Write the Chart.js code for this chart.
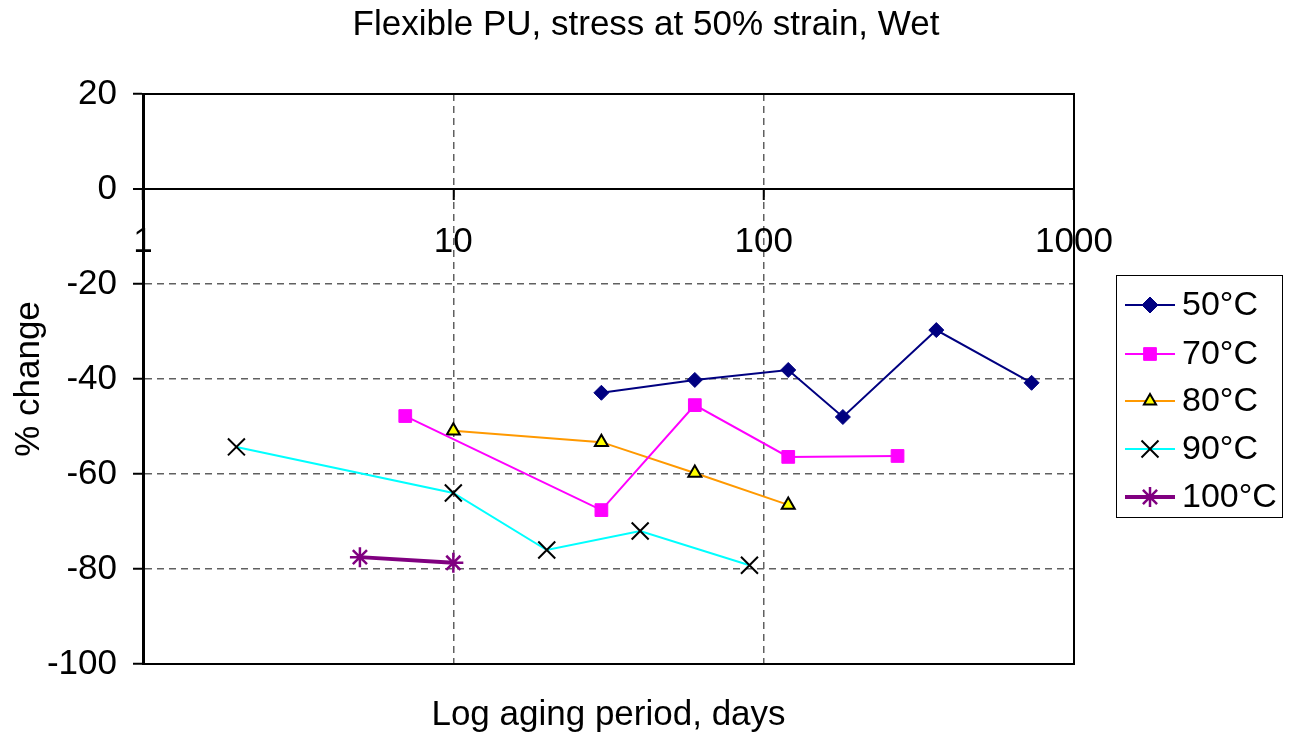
<!DOCTYPE html>
<html>
<head>
<meta charset="utf-8">
<script src="https://cdn.jsdelivr.net/npm/chart.js@4"></script>
<style>
  html, body { margin: 0; padding: 0; background: #fff; }
  #wrap { width: 1298px; height: 737px; }
</style>
</head>
<body>
<div id="wrap"><canvas id="chart" width="1298" height="737"></canvas></div>
<script>
// aging period (days) and % change
const days50 = [30, 60, 120, 180, 360, 730];
const change50 = [-42.9, -40.2, -38.1, -48, -29.7, -40.8];
const days70 = [7, 30, 60, 120, 270];
const change70 = [-47.8, -67.6, -45.5, -56.4, -56.2];
const days80 = [10, 30, 60, 120];
const change80 = [-50.9, -53.3, -59.8, -66.5];
const days90 = [2, 10, 20, 40, 90];
const change90 = [-54.3, -64, -76, -72, -79.2];
const days100 = [5, 10];
const change100 = [-77.5, -78.7];

const xTicks = [1, 10, 100, 1000];
const yTicks = [20, 0, -20, -40, -60, -80, -100];

const FONT = "'Liberation Sans', Arial, sans-serif";

function pts(xs, ys) {
  return xs.map((x, i) => ({ x: x, y: ys[i] }));
}

// titles + plot border + legend drawn by hand
const decor = {
  id: "decor",
  afterDraw(chart) {
    const ctx = chart.ctx;
    const a = chart.chartArea;
    ctx.save();
    ctx.strokeStyle = "#000";
    ctx.lineWidth = 2;
    ctx.strokeRect(a.left, a.top, a.right - a.left, a.bottom - a.top);

    ctx.fillStyle = "#000";
    ctx.textAlign = "center";
    ctx.textBaseline = "middle";
    ctx.font = "35px " + FONT;
    ctx.fillText("Flexible PU, stress at 50% strain, Wet", 646, 25);
    ctx.fillText("Log aging period, days", (a.left + a.right) / 2, 715);

    ctx.save();
    ctx.translate(29, (a.top + a.bottom) / 2);
    ctx.rotate(-Math.PI / 2);
    ctx.fillText("% change", 0, 0);
    ctx.restore();

    // legend
    ctx.lineWidth = 1;
    ctx.strokeRect(1116.5, 275.5, 166, 242);
    const rows = [305, 354, 401, 449, 497];
    const sizes = [8, 9, 7, 12, 10];
    ctx.textAlign = "left";
    ctx.font = "34px " + FONT;
    chart.data.datasets.forEach((ds, i) => {
      const y = rows[i];
      ctx.strokeStyle = ds.borderColor;
      ctx.lineWidth = ds.borderWidth;
      ctx.beginPath();
      ctx.moveTo(1125, y);
      ctx.lineTo(1175, y);
      ctx.stroke();
      ctx.fillStyle = ds.pointBackgroundColor;
      ctx.strokeStyle = ds.pointBorderColor;
      ctx.lineWidth = ds.pointBorderWidth;
      Chart.helpers.drawPoint(ctx, {
        pointStyle: ds.pointStyle,
        radius: sizes[i],
        rotation: 0,
        borderWidth: ds.pointBorderWidth
      }, 1150, y);
      ctx.fillStyle = "#000";
      ctx.fillText(ds.label, 1182, y + 1);
    });
    ctx.restore();
  }
};

new Chart(document.getElementById("chart"), {
  type: "line",
  data: {
    datasets: [
      {
        label: "50°C", data: pts(days50, change50),
        borderColor: "#000080", borderWidth: 2,
        pointStyle: "rectRot", pointRadius: 7.5,
        pointBackgroundColor: "#000080", pointBorderColor: "#000080", pointBorderWidth: 1
      },
      {
        label: "70°C", data: pts(days70, change70),
        borderColor: "#FF00FF", borderWidth: 2,
        pointStyle: "rect", pointRadius: 9,
        pointBackgroundColor: "#FF00FF", pointBorderColor: "#FF00FF", pointBorderWidth: 1
      },
      {
        label: "80°C", data: pts(days80, change80),
        borderColor: "#FF9900", borderWidth: 2,
        pointStyle: "triangle", pointRadius: 7.5,
        pointBackgroundColor: "#FFFF00", pointBorderColor: "#000000", pointBorderWidth: 2
      },
      {
        label: "90°C", data: pts(days90, change90),
        borderColor: "#00FFFF", borderWidth: 2,
        pointStyle: "crossRot", pointRadius: 12,
        pointBackgroundColor: "#000000", pointBorderColor: "#000000", pointBorderWidth: 2
      },
      {
        label: "100°C", data: pts(days100, change100),
        borderColor: "#800080", borderWidth: 4,
        pointStyle: "star", pointRadius: 10,
        pointBackgroundColor: "#800080", pointBorderColor: "#800080", pointBorderWidth: 2.5
      }
    ]
  },
  options: {
    responsive: false,
    animation: false,
    layout: { padding: { left: 0, right: 224, top: 94, bottom: 73 } },
    plugins: { legend: { display: false }, title: { display: false }, tooltip: { enabled: false } },
    elements: { line: { tension: 0 } },
    scales: {
      x: {
        type: "logarithmic",
        min: 1, max: 1000,
        position: { y: 0 },
        afterFit(s) { s.height = 0; },
        afterBuildTicks(s) { s.ticks = xTicks.map(v => ({ value: v })); },
        ticks: {
          color: "#000", font: { size: 35, family: FONT }, padding: 22,
          maxRotation: 0, autoSkip: false,
          callback: v => String(v)
        },
        grid: {
          color: c => (c.tick && (c.tick.value === 10 || c.tick.value === 100)) ? "#606060" : "rgba(0,0,0,0)",
          lineWidth: 1.5, tickLength: 10, tickColor: "#000", tickWidth: 2, tickBorderDash: []
        },
        border: { display: true, color: "#000", width: 2, dash: [7, 5] }
      },
      y: {
        min: -100, max: 20,
        afterFit(s) { s.width = 143; },
        afterBuildTicks(s) { s.ticks = yTicks.map(v => ({ value: v })); },
        ticks: { color: "#000", font: { size: 35, family: FONT }, padding: 16 },
        grid: {
          color: c => {
            const v = c.tick && c.tick.value;
            if (v === 0) return "#000";
            if (v === 20 || v === -100) return "rgba(0,0,0,0)";
            return "#606060";
          },
          lineWidth: c => (c.tick && c.tick.value === 0) ? 2 : 1.5,
          tickLength: 10, tickColor: "#000", tickWidth: 2, tickBorderDash: []
        },
        border: {
          display: true, color: "#000", width: 3,
          dash: c => (c.tick && c.tick.value === 0) ? [] : [7, 5]
        }
      }
    }
  },
  plugins: [decor]
});
</script>
</body>
</html>
